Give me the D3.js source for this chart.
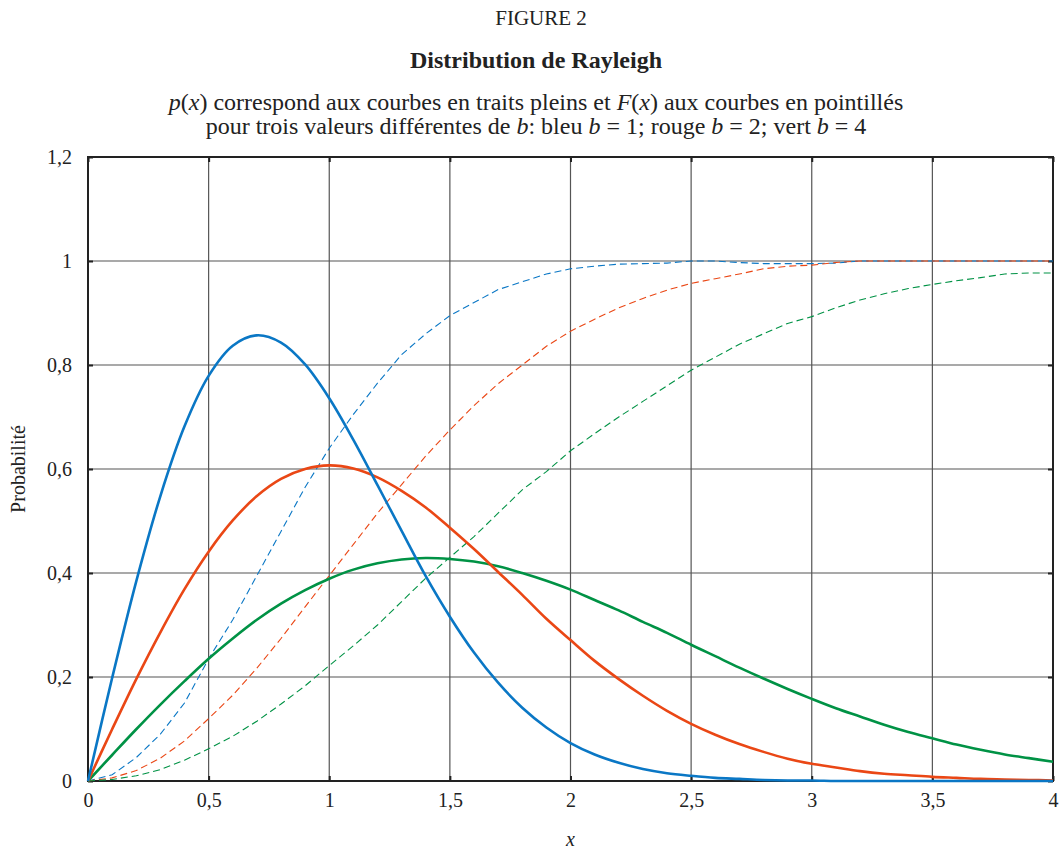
<!DOCTYPE html>
<html>
<head>
<meta charset="utf-8">
<script src="https://cdn.jsdelivr.net/npm/d3@7"></script>
<style>
  body { margin: 0; background: #fff; }
  svg text, svg tspan { font-family: "Liberation Serif", "Times New Roman", serif; fill: #222; }
</style>
</head>
<body>
<div id="chart"></div>
<script>
// x positions for all series
const xs = [0,0.1,0.2,0.3,0.4,0.5,0.6,0.7,0.8,0.9,1,1.1,1.2,1.3,1.4,1.5,1.6,1.7,1.8,1.9,2,
            2.1,2.2,2.3,2.4,2.5,2.6,2.7,2.8,2.9,3,3.1,3.2,3.3,3.4,3.5,3.6,3.7,3.8,3.9,4];

// p(x), solid curves
const pBleu  = [0,0.198,0.384,0.548,0.682,0.779,0.837,0.857,0.843,0.801,0.736,0.656,0.569,0.481,0.394,0.316,0.247,0.189,0.141,0.103,0.073,
                0.051,0.035,0.023,0.015,0.010,0.006,0.004,0.002,0.001,0.001,0,0,0,0,0,0,0,0,0,0];
const pRouge = [0,0.0995,0.196,0.286,0.369,0.441,0.501,0.548,0.581,0.600,0.607,0.601,0.584,0.558,0.526,0.487,0.446,0.402,0.358,0.312,0.271,
                0.231,0.196,0.164,0.135,0.110,0.089,0.071,0.056,0.043,0.033,0.026,0.019,0.014,0.011,0.008,0.006,0.004,0.003,0.002,0.001];
const pVert  = [0,0.050,0.0995,0.147,0.192,0.235,0.274,0.310,0.341,0.367,0.389,0.4065,0.4186,0.426,0.4288,0.427,0.422,0.413,0.400,0.385,0.368,
                0.348,0.328,0.306,0.285,0.262,0.240,0.218,0.197,0.177,0.158,0.140,0.124,0.108,0.094,0.082,0.070,0.060,0.051,0.044,0.037];

// F(x), dashed curves (empirical, slightly jagged)
const fBleu  = [0,0.012,0.045,0.09,0.15,0.235,0.31,0.395,0.48,0.565,0.64,0.705,0.765,0.82,0.86,0.895,0.92,0.945,0.96,0.975,0.985,
                0.99,0.994,0.995,0.996,1,1,0.997,0.995,0.995,0.995,0.996,1,1,1,1,1,1,1,1,1];
const fRouge = [0,0.006,0.02,0.044,0.077,0.12,0.165,0.217,0.274,0.335,0.395,0.455,0.515,0.57,0.625,0.675,0.722,0.764,0.8,0.836,0.865,
                0.888,0.91,0.928,0.944,0.957,0.966,0.975,0.985,0.99,0.992,0.997,1,1,1,1,1,1,1,1,1];
const fVert  = [0,0.003,0.01,0.022,0.04,0.062,0.086,0.115,0.148,0.183,0.222,0.26,0.3,0.345,0.39,0.43,0.47,0.515,0.56,0.595,0.635,
                0.668,0.7,0.73,0.76,0.79,0.815,0.84,0.86,0.88,0.893,0.91,0.925,0.937,0.947,0.955,0.962,0.968,0.975,0.977,0.977];

const xTicks = [0,0.5,1,1.5,2,2.5,3,3.5,4];
const yTicks = [0,0.2,0.4,0.6,0.8,1,1.2];

const bleu = '#0a77c5', rouge = '#ea4715', vert = '#009245';
const serif = '"Liberation Serif", "Times New Roman", serif';

const W = 1059, H = 851;
const mLeft = 88, mRight = 1053, mTop = 157, mBottom = 781;

const svg = d3.select('#chart').append('svg')
    .attr('width', W).attr('height', H);

const x = d3.scaleLinear().domain([0, 4]).range([mLeft, mRight]);
const y = d3.scaleLinear().domain([0, 1.2]).range([mBottom, mTop]);
const fmt = d => String(d).replace('.', ',');

// titles
svg.append('text').attr('x', 541).attr('y', 25).attr('text-anchor', 'middle')
    .style('font-size', '21px').text('FIGURE 2');
svg.append('text').attr('x', 536).attr('y', 68).attr('text-anchor', 'middle')
    .style('font-size', '24px').style('font-weight', 'bold').text('Distribution de Rayleigh');

function rich(t, parts) {
  parts.forEach(([s, it]) => {
    t.append('tspan').style('font-family', serif)
     .style('font-style', it ? 'italic' : 'normal').text(s);
  });
}
const sub1 = svg.append('text').attr('x', 536).attr('y', 110).attr('text-anchor', 'middle').style('font-size', '24px');
rich(sub1, [['p', 1], ['(', 0], ['x', 1], [') correspond aux courbes en traits pleins et ', 0],
            ['F', 1], ['(', 0], ['x', 1], [') aux courbes en pointillés', 0]]);
const sub2 = svg.append('text').attr('x', 536).attr('y', 134).attr('text-anchor', 'middle').style('font-size', '24px');
rich(sub2, [['pour trois valeurs différentes de ', 0], ['b', 1], [': bleu ', 0], ['b', 1], [' = 1; rouge ', 0],
            ['b', 1], [' = 2; vert ', 0], ['b', 1], [' = 4', 0]]);

// grid
svg.append('g').selectAll('line').data(xTicks.slice(1, -1)).join('line')
    .attr('x1', d => x(d)).attr('x2', d => x(d)).attr('y1', mTop).attr('y2', mBottom)
    .attr('stroke', '#555').attr('stroke-width', 1.2);
svg.append('g').selectAll('line').data(yTicks.slice(1, -1)).join('line')
    .attr('x1', mLeft).attr('x2', mRight).attr('y1', d => y(d)).attr('y2', d => y(d))
    .attr('stroke', '#555').attr('stroke-width', 1.2);

// axes with inward ticks
const ax = svg.append('g').attr('transform', `translate(0,${mBottom})`)
    .call(d3.axisBottom(x).tickValues(xTicks).tickSize(-5).tickPadding(12).tickFormat(fmt));
const ay = svg.append('g').attr('transform', `translate(${mLeft},0)`)
    .call(d3.axisLeft(y).tickValues(yTicks).tickSize(-5).tickPadding(16).tickFormat(fmt));
svg.append('g').attr('transform', `translate(${mRight},0)`)
    .call(d3.axisRight(y).tickValues(yTicks).tickSize(-5).tickFormat(''));
svg.append('g').attr('transform', `translate(0,${mTop})`)
    .call(d3.axisTop(x).tickValues(xTicks).tickSize(-5).tickFormat(''));
svg.selectAll('.domain').remove();
svg.selectAll('.tick line').attr('stroke', '#222').attr('stroke-width', 2);
[ax, ay].forEach(g => g.selectAll('text').style('font-size', '20px')
    .style('font-family', serif).attr('fill', '#222'));

// frame
svg.append('rect').attr('x', mLeft).attr('y', mTop).attr('width', mRight - mLeft).attr('height', mBottom - mTop)
    .attr('fill', 'none').attr('stroke', '#222').attr('stroke-width', 2);

// axis titles
svg.append('text').attr('x', x(2)).attr('y', 846).attr('text-anchor', 'middle')
    .style('font-size', '20px').style('font-style', 'italic').text('x');
svg.append('text').attr('transform', `translate(25,${y(0.6)}) rotate(-90)`).attr('text-anchor', 'middle')
    .style('font-size', '20px').text('Probabilité');

// curves
const smooth = d3.line().x((d, i) => x(xs[i])).y(d => y(d)).curve(d3.curveCatmullRom);
const jag = d3.line().x((d, i) => x(xs[i])).y(d => y(d));

const dashed = [[fBleu, bleu], [fRouge, rouge], [fVert, vert]];
dashed.forEach(([data, c]) => {
  svg.append('path').datum(data).attr('d', jag)
     .attr('fill', 'none').attr('stroke', c).attr('stroke-width', 1.1)
     .attr('stroke-dasharray', '7,4');
});

const solid = [[pVert, vert], [pRouge, rouge], [pBleu, bleu]];
solid.forEach(([data, c]) => {
  svg.append('path').datum(data).attr('d', smooth)
     .attr('fill', 'none').attr('stroke', c).attr('stroke-width', 2.6);
});
</script>
</body>
</html>
